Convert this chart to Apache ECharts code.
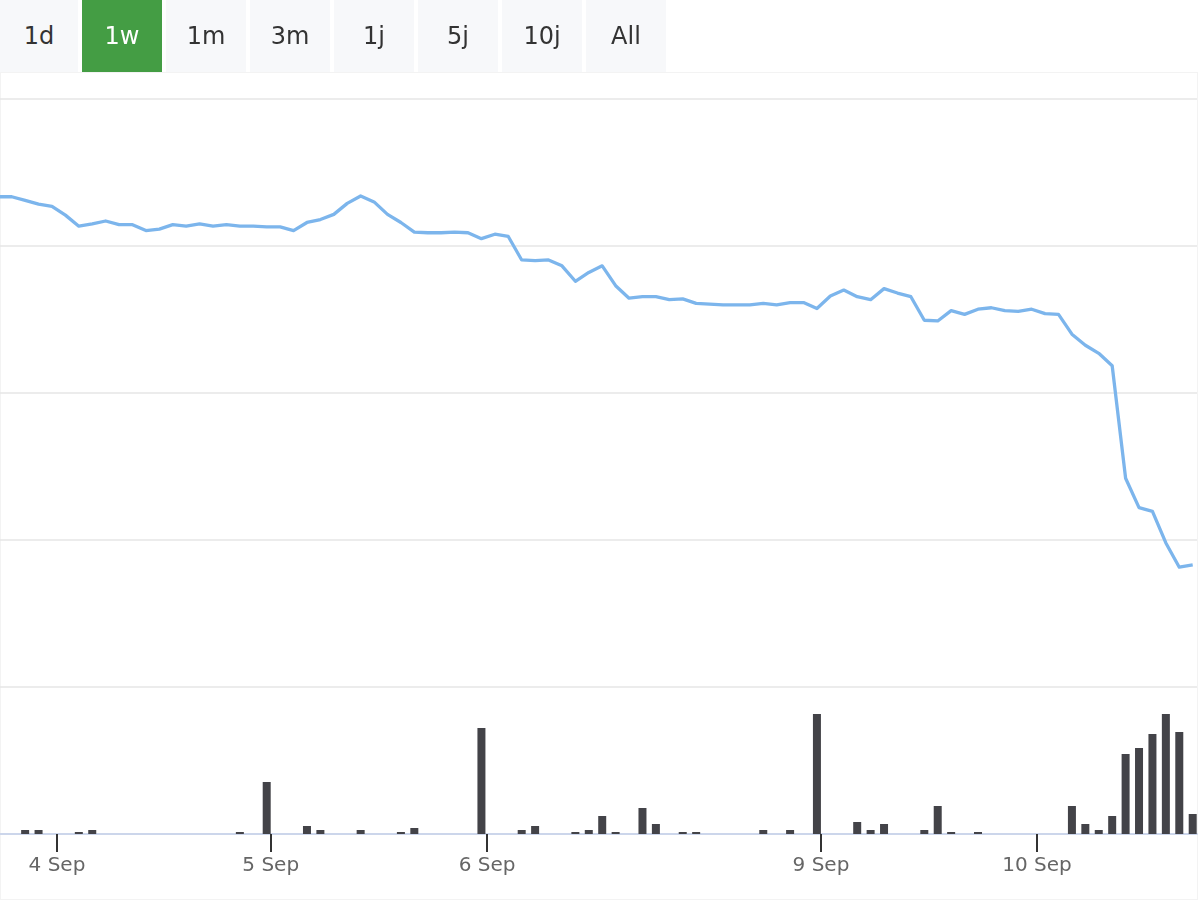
<!DOCTYPE html>
<html><head><meta charset="utf-8">
<script src="https://cdn.jsdelivr.net/npm/echarts@6/dist/echarts.min.js"></script>
<style>
html,body{margin:0;padding:0;background:#fff;}
#wrap{position:relative;width:1200px;height:900px;overflow:hidden;font-family:"DejaVu Sans",sans-serif;}
#frame{position:absolute;left:0;top:72px;width:1196px;height:826px;border:1px solid #f3f3f3;}
#chart{position:absolute;left:0;top:0;width:1200px;height:900px;}
.btn{position:absolute;top:0;height:72px;width:80px;background:#f7f8fa;color:#333;font-size:24px;line-height:72px;text-align:center;z-index:5;}
.btn.sel{background:#449d44;color:#fff;}
</style></head>
<body><div id="wrap"><div id="frame"></div><div id="chart"></div></div>
<script>
const rangeButtons = ['1d','1w','1m','3m','1j','5j','10j','All'];
const selectedButton = '1w';

const price = [
 26.67,26.67,26.62,26.57,26.54,26.42,26.27,26.30,26.34,26.29,
 26.29,26.21,26.23,26.29,26.27,26.30,26.27,26.29,26.27,26.27,
 26.26,26.26,26.21,26.32,26.36,26.43,26.58,26.68,26.60,26.43,
 26.32,26.19,26.18,26.18,26.19,26.18,26.10,26.16,26.13,25.81,
 25.80,25.81,25.73,25.52,25.64,25.73,25.46,25.29,25.31,25.31,
 25.27,25.28,25.22,25.21,25.20,25.20,25.20,25.22,25.20,25.23,
 25.23,25.15,25.32,25.40,25.31,25.27,25.42,25.36,25.31,24.99,
 24.98,25.12,25.07,25.14,25.16,25.12,25.11,25.14,25.08,25.07,
 24.80,24.65,24.54,24.37,22.84,22.44,22.39,21.96,21.63,21.66
];
const volume = [
 0,0,4,4,0,0,2,4,0,0,
 0,0,0,0,0,0,0,0,2,0,
 52,0,0,8,4,0,0,4,0,0,
 2,6,0,0,0,0,106,0,0,4,
 8,0,0,2,4,18,2,0,26,10,
 0,2,2,0,0,0,0,4,0,4,
 0,120,0,0,12,4,10,0,0,4,
 28,2,0,2,0,0,0,0,0,0,
 28,10,4,18,80,86,100,120,102,20
];
const tickIndex = [4.37, 20.3, 36.42, 61.3, 77.4];
const tickLabels = ['4 Sep','5 Sep','6 Sep','9 Sep','10 Sep'];

// buttons
const wrap = document.getElementById('wrap');
rangeButtons.forEach((b,i)=>{
  const d = document.createElement('div');
  d.className = 'btn' + (b===selectedButton ? ' sel' : '');
  d.textContent = b;
  if (i===0){ d.style.left='0px'; d.style.width='78px'; }
  else { d.style.left=(82+84*(i-1))+'px'; }
  wrap.appendChild(d);
});

const chart = echarts.init(document.getElementById('chart'), null, {renderer:'canvas'});
const xMin = 0.1267, xMax = 89.32;
const labelFor = v => {
  let best = 0, bd = 1e9;
  tickIndex.forEach((t,i)=>{ const d=Math.abs(t-v); if(d<bd){bd=d;best=i;} });
  return tickLabels[best];
};
chart.setOption({
  animation:false,
  grid:[
    {left:0,right:3,top:99,height:588,containLabel:false},
    {left:0,right:3,top:687,height:147,containLabel:false}
  ],
  xAxis:[
    {type:'value',gridIndex:0,min:xMin,max:xMax,show:false,splitLine:{show:false}},
    {type:'value',gridIndex:1,min:xMin,max:xMax,
     axisLine:{show:true,lineStyle:{color:'#ccd6eb',width:2}},
     splitLine:{show:false},
     axisTick:{show:true,customValues:tickIndex,length:18,lineStyle:{color:'#333',width:2}},
     axisLabel:{show:true,customValues:tickIndex,formatter:labelFor,color:'#666',fontSize:20,
       fontFamily:'DejaVu Sans',margin:22}
    }
  ],
  yAxis:[
    {type:'value',gridIndex:0,min:20,max:28,interval:2,
     axisLine:{show:false},axisTick:{show:false},axisLabel:{show:false},
     splitLine:{show:true,lineStyle:{color:'#e6e6e6',width:1.5}}},
    {type:'value',gridIndex:1,min:0,max:147,
     axisLine:{show:false},axisTick:{show:false},axisLabel:{show:false},
     splitLine:{show:false}}
  ],
  series:[
    {type:'line',xAxisIndex:0,yAxisIndex:0,data:price.map((v,i)=>[i,v]),
     showSymbol:false,symbol:'none',lineStyle:{color:'#7cb5ec',width:3.3,join:'round'},
     itemStyle:{color:'#7cb5ec'},clip:true,z:3},
    {type:'bar',xAxisIndex:1,yAxisIndex:1,data:volume.map((v,i)=>[i,v]),
     barWidth:8,itemStyle:{color:'#434348'},z:2}
  ]
});
</script>
</body></html>
